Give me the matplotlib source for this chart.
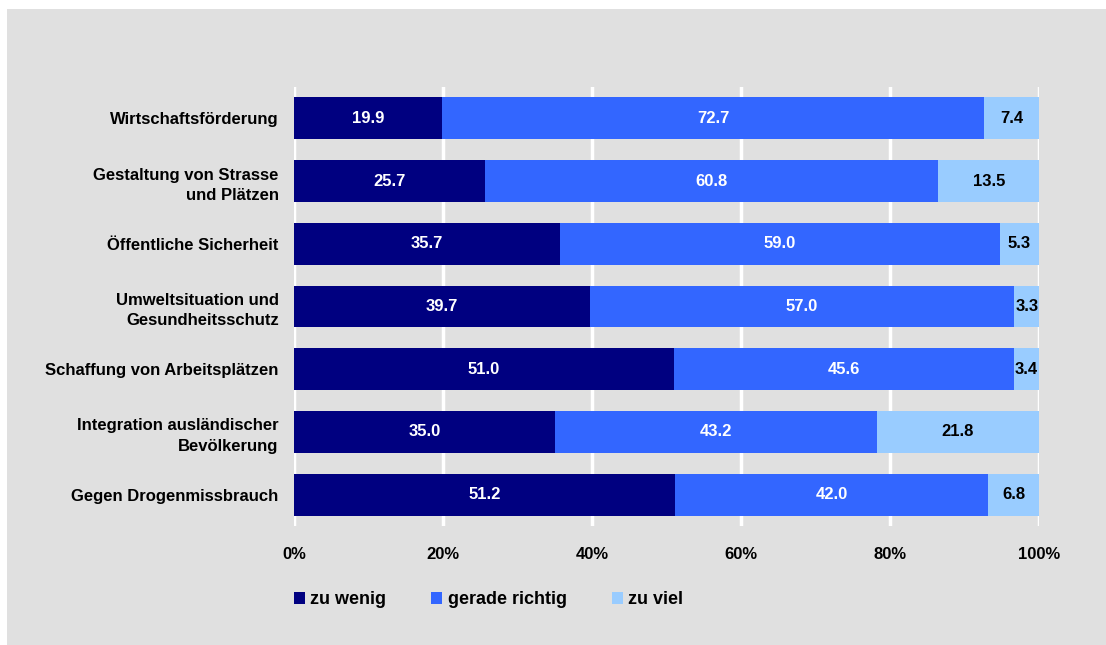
import matplotlib.pyplot as plt
import numpy as np
from matplotlib.patches import Rectangle

plt.rcParams['font.family'] = ['Liberation Sans', 'DejaVu Sans']

categories = ["Wirtschaftsförderung",
              "Gestaltung von Strasse\nund Plätzen",
              "Öffentliche Sicherheit",
              "Umweltsituation und\nGesundheitsschutz",
              "Schaffung von Arbeitsplätzen",
              "Integration ausländischer\nBevölkerung",
              "Gegen Drogenmissbrauch"]
zu_wenig = [19.9, 25.7, 35.7, 39.7, 51.0, 35.0, 51.2]
gerade_richtig = [72.7, 60.8, 59.0, 57.0, 45.6, 43.2, 42.0]
zu_viel = [7.4, 13.5, 5.3, 3.3, 3.4, 21.8, 6.8]
series_names = ["zu wenig", "gerade richtig", "zu viel"]
x_ticks = [0, 20, 40, 60, 80, 100]

colors = ["#000080", "#3366FF", "#99CCFF"]
text_colors = ["white", "white", "black"]
BG = "#E0E0E0"

fig = plt.figure(figsize=(11.06, 6.45), dpi=100, facecolor="white")
fig.patches.append(Rectangle((7 / 1106, 0), 1 - 7 / 1106, 1 - 9 / 645,
                             transform=fig.transFigure, facecolor=BG,
                             edgecolor="none", zorder=-10))

ax = fig.add_axes([294 / 1106, 1 - 526 / 645, (1039 - 294) / 1106, (526 - 87) / 645])
ax.set_facecolor(BG)

y = np.arange(len(categories))
left = np.zeros(len(categories))
for vals, name, col, tcol in zip([zu_wenig, gerade_richtig, zu_viel],
                                 series_names, colors, text_colors):
    vals = np.array(vals)
    ax.barh(y, vals, left=left, height=0.667, color=col, label=name, zorder=3)
    for yi, l, v in zip(y, left, vals):
        ax.text(l + v / 2, yi, f"{v:.1f}", ha="center", va="center",
                color=tcol, fontsize=12, fontweight="bold", zorder=4)
    left += vals

ax.set_xlim(0, 100)
ax.set_ylim(len(categories) - 0.5, -0.5)
ax.set_xticks(x_ticks)
ax.set_xticklabels([f"{t}%" for t in x_ticks], fontsize=12, fontweight="bold")
ax.set_yticks(y)
ax.set_yticklabels(categories, fontsize=12, fontweight="bold", ha="right",
                   linespacing=1.45)
ax.tick_params(axis="both", length=0)
ax.tick_params(axis="x", pad=15)
ax.tick_params(axis="y", pad=11)
ax.xaxis.grid(True, color="white", linewidth=2.5, zorder=1)
ax.set_axisbelow(True)
for s in ax.spines.values():
    s.set_visible(False)

fig.legend(loc="center left", bbox_to_anchor=(294 / 1106, 1 - 600 / 645),
           ncol=3, frameon=False, borderpad=0, borderaxespad=0,
           handlelength=0.6, handleheight=0.6, handletextpad=0.3,
           columnspacing=2.5, prop={"size": 13, "weight": "bold"})

fig.savefig("out.png", dpi=100, facecolor="white")
